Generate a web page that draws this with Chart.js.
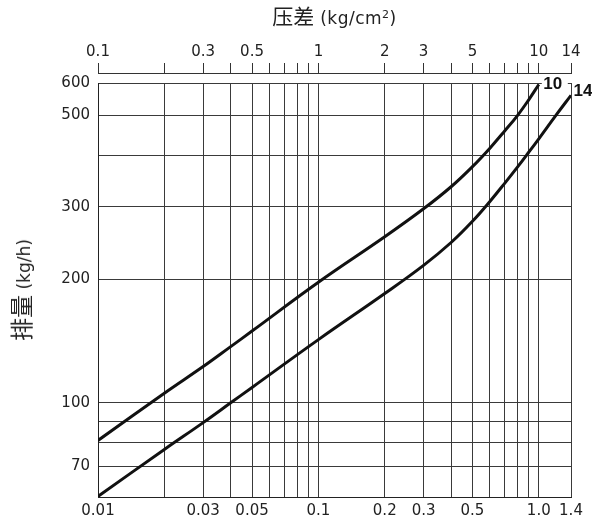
<!DOCTYPE html>
<html>
<head>
<meta charset="utf-8">
<script src="https://cdn.jsdelivr.net/npm/chart.js"></script>
<style>
  body { margin: 0; background: #fff; }
  #wrap { position: relative; width: 592px; height: 524px; }
  #flow_chart { position: absolute; left: 0; top: 0; }
  .axis_title {
    position: absolute;
    color: #222;
    font-family: "DejaVu Sans", sans-serif;
    font-size: 17px;
    white-space: nowrap;
  }
  .axis_title .cjk { font-family: "Noto Sans CJK SC", sans-serif; }
  .axis_title sup { font-size: 11px; vertical-align: 6px; line-height: 0; }
  #x_title { left: 98px; width: 473px; top: 0; line-height: 31px; text-align: center; letter-spacing: 0.5px; }
  #x_title .cjk { font-size: 21px; letter-spacing: 0; }
  #y_title { left: 22px; top: 290px; line-height: 26px; transform: translate(-50%, -50%) rotate(-90deg); }
  #y_title .cjk { font-size: 23px; }
</style>
</head>
<body>
<div id="wrap">
  <canvas id="flow_chart" width="592" height="524"></canvas>
  <div id="x_title" class="axis_title"><span class="cjk">压差</span> (kg/cm<sup>2</sup>)</div>
  <div id="y_title" class="axis_title"><span class="cjk">排量</span> (kg/h)</div>
</div>
<script>
// кривые (номер кривой = подпись у конца линии)
const seriesNames = ['10', '14'];

const dp10 = [0.01, 0.02, 0.03, 0.04, 0.05, 0.1, 0.2, 0.3, 0.4, 0.5, 0.6, 0.7, 0.8, 0.9, 1.0];
const flow10 = [81, 105.5, 122.5, 137, 149.5, 196.5, 253.5, 296.5, 335.5, 375.5, 416.5, 458.5, 500, 546, 595];

const dp14 = [0.01, 0.02, 0.03, 0.04, 0.05, 0.1, 0.2, 0.3, 0.4, 0.5, 0.6, 0.7, 0.8, 0.9, 1.0, 1.2, 1.4];
const flow14 = [59.2, 77, 89.5, 100, 109, 142.5, 184.5, 216, 245.5, 276.5, 309, 342, 374.5, 407, 439, 502, 560];

// нижняя шкала
const xTickVals = [0.01, 0.02, 0.03, 0.04, 0.05, 0.06, 0.07, 0.08, 0.09, 0.1, 0.2, 0.3, 0.4, 0.5, 0.6, 0.7, 0.8, 0.9, 1.0, 1.4];
const xTickText = ['0.01', '', '0.03', '', '0.05', '', '', '', '', '0.1', '0.2', '0.3', '', '0.5', '', '', '', '', '1.0', '1.4'];

// верхняя шкала
const topTickVals = [0.1, 0.2, 0.3, 0.4, 0.5, 0.6, 0.7, 0.8, 0.9, 1, 2, 3, 4, 5, 6, 7, 8, 9, 10, 14];
const topTickText = ['0.1', '', '0.3', '', '0.5', '', '', '', '', '1', '2', '3', '', '5', '', '', '', '', '10', '14'];

// вертикальная шкала
const yTickVals = [70, 80, 90, 100, 200, 300, 400, 500, 600];
const yTickText = ['70', '', '', '100', '200', '300', '', '500', '600'];

const tickFont = { family: '"DejaVu Sans", sans-serif', size: 15 };
const gridColor = '#3a3a3a';

function toPoints(xs, ys) {
  return xs.map((v, i) => ({ x: v, y: ys[i] }));
}

// подписи кривых у их концов
const curveLabels = {
  id: 'curveLabels',
  afterDraw(chart) {
    const { ctx, chartArea, scales: { x, y } } = chart;
    ctx.save();
    ctx.font = 'bold 17px "Liberation Sans", sans-serif';
    ctx.textAlign = 'center';
    ctx.textBaseline = 'middle';

    const lx = x.getPixelForValue(dp10[dp10.length - 1]) + 14;
    const ly = y.getPixelForValue(600) + 1;
    ctx.fillStyle = '#fff';
    ctx.fillRect(lx - 11, ly - 9, 26, 18);
    ctx.fillStyle = '#111';
    ctx.fillText(seriesNames[0], lx, ly);

    const rx = chartArea.right + 12;
    const ry = y.getPixelForValue(flow14[flow14.length - 1]) - 4;
    ctx.fillText(seriesNames[1], rx, ry);
    ctx.restore();
  }
};

window.addEventListener('load', () => {
  const ctx = document.getElementById('flow_chart');

  const lineStyle = {
    borderColor: '#111',
    borderWidth: 3,
    pointRadius: 0,
    fill: false,
    tension: 0.4,
    xAxisID: 'x',
    yAxisID: 'y'
  };

  const config = {
    type: 'line',
    data: {
      datasets: [
        { label: seriesNames[0], data: toPoints(dp10, flow10), ...lineStyle },
        { label: seriesNames[1], data: toPoints(dp14, flow14), ...lineStyle }
      ]
    },
    options: {
      responsive: false,
      animation: false,
      layout: { padding: { left: 0, right: 21, top: 0, bottom: 0 } },
      plugins: {
        legend: { display: false },
        tooltip: { enabled: false }
      },
      scales: {
        x: {
          type: 'logarithmic',
          position: 'bottom',
          min: 0.01,
          max: 1.4,
          afterBuildTicks: (scale) => { scale.ticks = xTickVals.map(v => ({ value: v })); },
          afterFit: (scale) => { scale.height = 27; },
          ticks: {
            autoSkip: false,
            maxRotation: 0,
            padding: 5,
            color: '#222',
            font: tickFont,
            callback: (v, i) => xTickText[i]
          },
          grid: { color: gridColor, lineWidth: 1, drawTicks: false },
          border: { color: '#222', width: 1 }
        },
        gap: {
          type: 'linear',
          position: 'top',
          weight: 0,
          ticks: { display: false },
          grid: { display: false },
          border: { display: false },
          afterFit: (scale) => { scale.height = 10; }
        },
        x2: {
          type: 'logarithmic',
          position: 'top',
          weight: 1,
          min: 0.1,
          max: 14,
          afterBuildTicks: (scale) => { scale.ticks = topTickVals.map(v => ({ value: v })); },
          afterFit: (scale) => { scale.height = 73; },
          ticks: {
            autoSkip: false,
            maxRotation: 0,
            padding: 2,
            color: '#222',
            font: tickFont,
            callback: (v, i) => topTickText[i]
          },
          grid: { drawOnChartArea: false, drawTicks: true, tickLength: 10, color: '#333', lineWidth: 1 },
          border: { display: true, color: '#333', width: 1 }
        },
        y: {
          type: 'logarithmic',
          position: 'left',
          min: 59,
          max: 600,
          afterBuildTicks: (scale) => { scale.ticks = yTickVals.map(v => ({ value: v })); },
          afterFit: (scale) => { scale.width = 98; },
          ticks: {
            autoSkip: false,
            padding: 8,
            color: '#222',
            font: tickFont,
            callback: (v, i) => yTickText[i]
          },
          grid: { color: gridColor, lineWidth: 1, drawTicks: false },
          border: { color: '#222', width: 1 }
        }
      }
    },
    plugins: [curveLabels]
  };

  window.flowChart = new Chart(ctx, config);
});
</script>
</body>
</html>
